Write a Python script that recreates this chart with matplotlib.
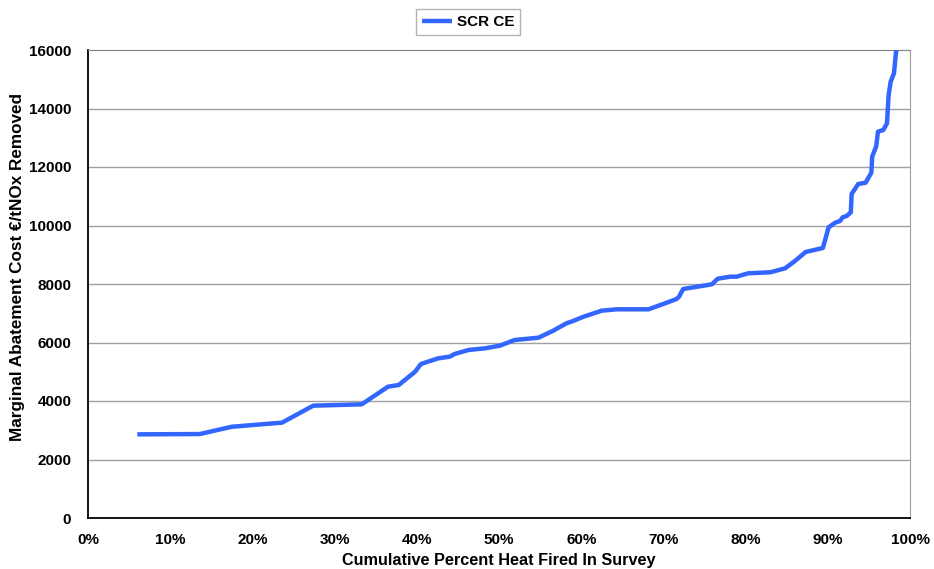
import matplotlib
matplotlib.use("Agg")
import matplotlib.pyplot as plt

plt.rcParams['font.family'] = ['Liberation Sans', 'DejaVu Sans']

# Cumulative percent heat fired (%)
cum_pct = [6.0, 13.6, 17.5, 23.6, 27.4, 33.3, 36.5, 37.8, 39.8, 40.5, 42.6, 44.0,
           44.6, 46.3, 48.3, 50.1, 51.9, 54.8, 56.6, 58.2, 58.8, 60.3, 62.5, 64.3,
           68.2, 70.2, 71.6, 71.9, 72.4, 75.9, 76.6, 78.1, 78.9, 80.3, 83.0, 84.8,
           86.0, 87.3, 89.4, 90.1, 90.9, 91.5, 91.8, 92.3, 92.8, 92.9, 93.7, 94.6,
           95.3, 95.4, 95.9, 96.1, 96.75, 97.2, 97.4, 97.65, 98.05, 98.3, 98.4]
# Marginal abatement cost (EUR/t NOx)
mac = [2860, 2870, 3120, 3260, 3840, 3886, 4490, 4547, 5003, 5265, 5459, 5515,
       5607, 5744, 5801, 5891, 6085, 6165, 6404, 6655, 6712, 6883, 7088, 7135,
       7135, 7340, 7487, 7566, 7829, 7989, 8180, 8250, 8250, 8365, 8400, 8536,
       8786, 9094, 9231, 9938, 10097, 10154, 10280, 10325, 10451, 11077, 11419, 11464,
       11806, 12353, 12718, 13208, 13265, 13493, 14462, 14917, 15203, 15942, 16000]

x_ticks = [0, 10, 20, 30, 40, 50, 60, 70, 80, 90, 100]
x_labels = ['0%', '10%', '20%', '30%', '40%', '50%', '60%', '70%', '80%', '90%', '100%']
y_ticks = [0, 2000, 4000, 6000, 8000, 10000, 12000, 14000, 16000]

fig = plt.figure(figsize=(9.34, 5.69), dpi=100)
ax = fig.add_axes([88/934, 51/569, (910-88)/934, (518-50)/569])

for yv in y_ticks[1:-1]:
    ax.axhline(yv, color='#a0a0a0', lw=1.0, zorder=1)

ax.plot(cum_pct, mac, color='#3366ff', lw=3.2, label='SCR CE', zorder=3,
        solid_joinstyle='round', solid_capstyle='butt', clip_on=True)

ax.set_xlim(0, 100)
ax.set_ylim(0, 16000)
ax.set_xticks(x_ticks)
ax.set_xticklabels(x_labels)
ax.set_yticks(y_ticks)
ax.set_yticklabels([str(v) for v in y_ticks])
ax.tick_params(axis='x', length=0, labelsize=11, pad=11)
ax.tick_params(axis='y', length=0, labelsize=11, pad=12)
for lbl in ax.get_xticklabels() + ax.get_yticklabels():
    lbl.set_fontweight('bold')

ax.spines['left'].set_color('black')
ax.spines['bottom'].set_color('black')
ax.spines['left'].set_linewidth(1.3)
ax.spines['bottom'].set_linewidth(1.3)
ax.spines['top'].set_color('#808080')
ax.spines['right'].set_color('#a0a0a0')

fig.text(499/934, 1 - 561/569, 'Cumulative Percent Heat Fired In Survey', fontsize=11.7,
         fontweight='bold', ha='center', va='center')
fig.text(18/934, 1 - 267/569, 'Marginal Abatement Cost €/tNOx Removed', fontsize=12.3,
         fontweight='bold', ha='center', va='center', rotation=90)

leg = fig.legend(loc='center', bbox_to_anchor=(468/934, 1 - 22/569), frameon=True, fancybox=False,
                 edgecolor='#a0a0a0', prop={'weight': 'bold', 'size': 11}, handlelength=2.0,
                 handletextpad=0.3, borderpad=0.4)
leg.get_frame().set_linewidth(1.0)

fig.savefig('out.png', dpi=100)
